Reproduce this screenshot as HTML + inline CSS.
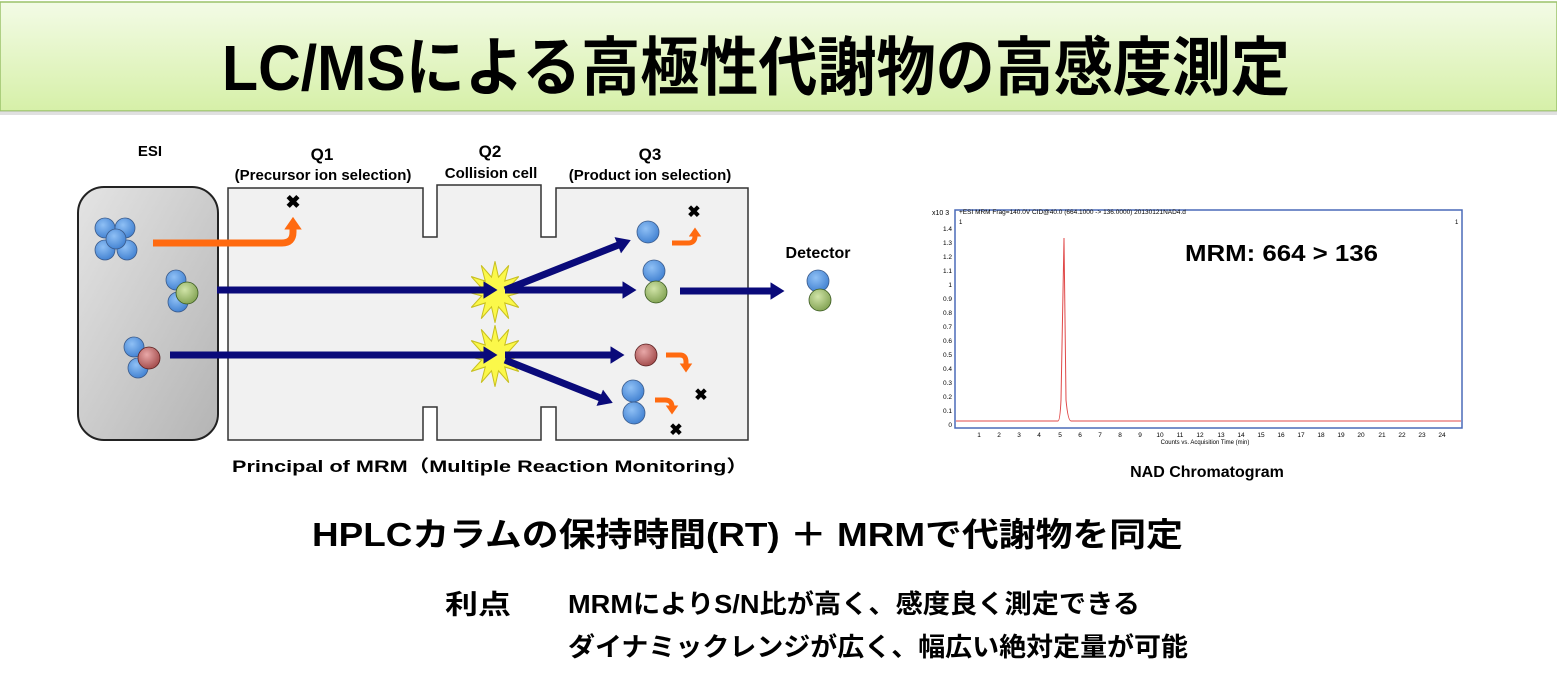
<!DOCTYPE html>
<html><head><meta charset="utf-8"><style>
html,body{margin:0;padding:0;background:#fff;}
svg{display:block;}
text{font-family:"Liberation Sans","Noto Sans CJK JP",sans-serif;font-weight:bold;}
text.n{font-weight:normal;}
</style></head><body>
<svg width="1557" height="675" viewBox="0 0 1557 675" xmlns="http://www.w3.org/2000/svg">
<defs>
<linearGradient id="ban" x1="0" y1="0" x2="0" y2="1"><stop offset="0" stop-color="#f3fbe6"/><stop offset="1" stop-color="#d6f0a8"/></linearGradient>
<linearGradient id="esi" x1="0" y1="0" x2="1" y2="1"><stop offset="0" stop-color="#e4e4e4"/><stop offset="1" stop-color="#b4b4b4"/></linearGradient>
<radialGradient id="bl" cx="0.4" cy="0.35" r="0.7"><stop offset="0" stop-color="#8fc0f5"/><stop offset="1" stop-color="#3f7fd0"/></radialGradient>
<radialGradient id="gr" cx="0.4" cy="0.35" r="0.7"><stop offset="0" stop-color="#d1e4a8"/><stop offset="1" stop-color="#7fa050"/></radialGradient>
<radialGradient id="rd" cx="0.4" cy="0.35" r="0.7"><stop offset="0" stop-color="#e8a8a8"/><stop offset="1" stop-color="#a04848"/></radialGradient>
<marker id="ah" markerWidth="3" markerHeight="3" refX="0.5" refY="1.25" orient="auto" markerUnits="strokeWidth"><path d="M0,0 L2,1.25 L0,2.5 Z" fill="#0a0a7a"/></marker>
<marker id="oh" markerWidth="3" markerHeight="3" refX="0.5" refY="1.25" orient="auto" markerUnits="strokeWidth"><path d="M0,0 L1.8,1.25 L0,2.5 Z" fill="#ff6a10"/></marker>
<polygon id="star" points="22,0 10.6,2.8 19,11 7.8,7.8 11,19 2.8,10.6 0,22 -2.8,10.6 -11,19 -7.8,7.8 -19,11 -10.6,2.8 -22,0 -10.6,-2.8 -19,-11 -7.8,-7.8 -11,-19 -2.8,-10.6 0,-22 2.8,-10.6 11,-19 7.8,-7.8 19,-11 10.6,-2.8" fill="#fbf84a" stroke="#c8c020" stroke-width="0.8"/>
</defs>

<rect x="0" y="2" width="1557" height="109" fill="url(#ban)" stroke="#9bc26a" stroke-width="1.5"/>
<rect x="0" y="111" width="1557" height="4" fill="#ccc" opacity="0.6"/>
<text x="222" y="90" font-size="64" textLength="1068" lengthAdjust="spacingAndGlyphs">LC/MSによる高極性代謝物の高感度測定</text>

<g font-size="15" text-anchor="middle">
<text x="150" y="156">ESI</text>
<text x="322" y="160" font-size="17">Q1</text>
<text x="323" y="180">(Precursor ion selection)</text>
<text x="490" y="157" font-size="17">Q2</text>
<text x="491" y="178">Collision cell</text>
<text x="650" y="160" font-size="17">Q3</text>
<text x="650" y="180">(Product ion selection)</text>
<text x="818" y="258" font-size="16">Detector</text>
</g>

<rect x="78" y="187" width="140" height="253" rx="26" fill="url(#esi)" stroke="#222" stroke-width="2"/>
<path d="M228,188 H423 V237 H437 V185 H541 V237 H556 V188 H748 V440 H556 V407 H541 V440 H437 V407 H423 V440 H228 Z" fill="#f1f1f1" stroke="#333" stroke-width="1.5"/>

<path d="M153,243 H282 Q293,243 293,232 V226" fill="none" stroke="#ff6a10" stroke-width="7" marker-end="url(#oh)"/>
<text x="293" y="208" font-size="18" text-anchor="middle">✖</text>

<g transform="translate(495,292) scale(1.25,1.4)"><use href="#star"/></g>
<g transform="translate(495,356) scale(1.25,1.4)"><use href="#star"/></g>

<g stroke="#0a0a7a" stroke-width="7" fill="none">
<line x1="217" y1="290" x2="487" y2="290" marker-end="url(#ah)"/>
<line x1="505" y1="290" x2="621" y2="244" marker-end="url(#ah)"/>
<line x1="505" y1="290" x2="626" y2="290" marker-end="url(#ah)"/>
<line x1="170" y1="355" x2="487" y2="355" marker-end="url(#ah)"/>
<line x1="505" y1="355" x2="614" y2="355" marker-end="url(#ah)"/>
<line x1="505" y1="360" x2="603" y2="399" marker-end="url(#ah)"/>
<line x1="680" y1="291" x2="774" y2="291" marker-end="url(#ah)"/>
</g>

<g stroke="#3a5a8a" stroke-width="0.8">
<circle cx="105" cy="228" r="10" fill="url(#bl)"/>
<circle cx="125" cy="228" r="10" fill="url(#bl)"/>
<circle cx="105" cy="250" r="10" fill="url(#bl)"/>
<circle cx="127" cy="250" r="10" fill="url(#bl)"/>
<circle cx="116" cy="239" r="10" fill="url(#bl)"/>
<circle cx="176" cy="280" r="10" fill="url(#bl)"/>
<circle cx="178" cy="302" r="10" fill="url(#bl)"/>
<circle cx="187" cy="293" r="11" fill="url(#gr)" stroke="#3a5a20"/>
<circle cx="134" cy="347" r="10" fill="url(#bl)"/>
<circle cx="138" cy="368" r="10" fill="url(#bl)"/>
<circle cx="149" cy="358" r="11" fill="url(#rd)" stroke="#5a2020"/>
<circle cx="648" cy="232" r="11" fill="url(#bl)"/>
<circle cx="654" cy="271" r="11" fill="url(#bl)"/>
<circle cx="656" cy="292" r="11" fill="url(#gr)" stroke="#3a5a20"/>
<circle cx="646" cy="355" r="11" fill="url(#rd)" stroke="#5a2020"/>
<circle cx="633" cy="391" r="11" fill="url(#bl)"/>
<circle cx="634" cy="413" r="11" fill="url(#bl)"/>
<circle cx="818" cy="281" r="11" fill="url(#bl)"/>
<circle cx="820" cy="300" r="11" fill="url(#gr)" stroke="#3a5a20"/>
</g>

<g stroke="#ff6a10" stroke-width="5" fill="none">
<path d="M672,243 H688 Q695,243 695,236 V234" marker-end="url(#oh)"/>
<path d="M666,355 H680 Q686,355 686,362 V366" marker-end="url(#oh)"/>
<path d="M655,400 H665 Q672,400 672,407 V408" marker-end="url(#oh)"/>
</g>
<g font-size="16" text-anchor="middle">
<text x="694" y="217">✖</text>
<text x="701" y="400">✖</text>
<text x="676" y="435">✖</text>
</g>

<text x="232" y="472" font-size="17" textLength="516" lengthAdjust="spacingAndGlyphs">Principal of MRM（Multiple Reaction Monitoring）</text>

<rect x="955" y="210" width="507" height="218" fill="#fff" stroke="#4a6ab8" stroke-width="1.5"/>
<text class="n" x="932" y="215" font-size="7">x10 3</text>
<text class="n" x="959" y="214" font-size="6.5">+ESI MRM Frag=140.0V CID@40.0 (664.1000 -&gt; 136.0000) 20130121NAD4.d</text>
<text class="n" x="959" y="224" font-size="6">1</text>
<text class="n" x="1455" y="224" font-size="6">1</text>
<g font-size="6.5" text-anchor="end">
<text class="n" x="952" y="231">1.4</text><text class="n" x="952" y="245">1.3</text><text class="n" x="952" y="259">1.2</text><text class="n" x="952" y="273">1.1</text><text class="n" x="952" y="287">1</text><text class="n" x="952" y="301">0.9</text><text class="n" x="952" y="315">0.8</text><text class="n" x="952" y="329">0.7</text><text class="n" x="952" y="343">0.6</text><text class="n" x="952" y="357">0.5</text><text class="n" x="952" y="371">0.4</text><text class="n" x="952" y="385">0.3</text><text class="n" x="952" y="399">0.2</text><text class="n" x="952" y="413">0.1</text><text class="n" x="952" y="427">0</text>
</g>
<g font-size="6.5" text-anchor="middle">
<text class="n" x="979" y="437">1</text><text class="n" x="999" y="437">2</text><text class="n" x="1019" y="437">3</text><text class="n" x="1039" y="437">4</text><text class="n" x="1060" y="437">5</text><text class="n" x="1080" y="437">6</text><text class="n" x="1100" y="437">7</text><text class="n" x="1120" y="437">8</text><text class="n" x="1140" y="437">9</text><text class="n" x="1160" y="437">10</text><text class="n" x="1180" y="437">11</text><text class="n" x="1200" y="437">12</text><text class="n" x="1221" y="437">13</text><text class="n" x="1241" y="437">14</text><text class="n" x="1261" y="437">15</text><text class="n" x="1281" y="437">16</text><text class="n" x="1301" y="437">17</text><text class="n" x="1321" y="437">18</text><text class="n" x="1341" y="437">19</text><text class="n" x="1361" y="437">20</text><text class="n" x="1382" y="437">21</text><text class="n" x="1402" y="437">22</text><text class="n" x="1422" y="437">23</text><text class="n" x="1442" y="437">24</text>
<text class="n" x="1205" y="444" font-size="6">Counts vs. Acquisition Time (min)</text>
</g>
<path d="M956,421 H1058 Q1060,421 1061,400 L1064,238 L1066,400 Q1068,421 1071,421 H1461" fill="none" stroke="#e04848" stroke-width="1"/>
<text x="1185" y="261" font-size="23" textLength="193" lengthAdjust="spacingAndGlyphs">MRM: 664 &gt; 136</text>
<text x="1207" y="477" font-size="16" text-anchor="middle">NAD Chromatogram</text>

<text x="312" y="546" font-size="33" textLength="871" lengthAdjust="spacingAndGlyphs">HPLCカラムの保持時間(RT) ＋ MRMで代謝物を同定</text>
<text x="445" y="614" font-size="27" textLength="66" lengthAdjust="spacingAndGlyphs">利点</text>
<text x="568" y="613" font-size="26" textLength="572" lengthAdjust="spacingAndGlyphs">MRMによりS/N比が高く、感度良く測定できる</text>
<text x="568" y="656" font-size="26" textLength="620" lengthAdjust="spacingAndGlyphs">ダイナミックレンジが広く、幅広い絶対定量が可能</text>
</svg>
</body></html>
